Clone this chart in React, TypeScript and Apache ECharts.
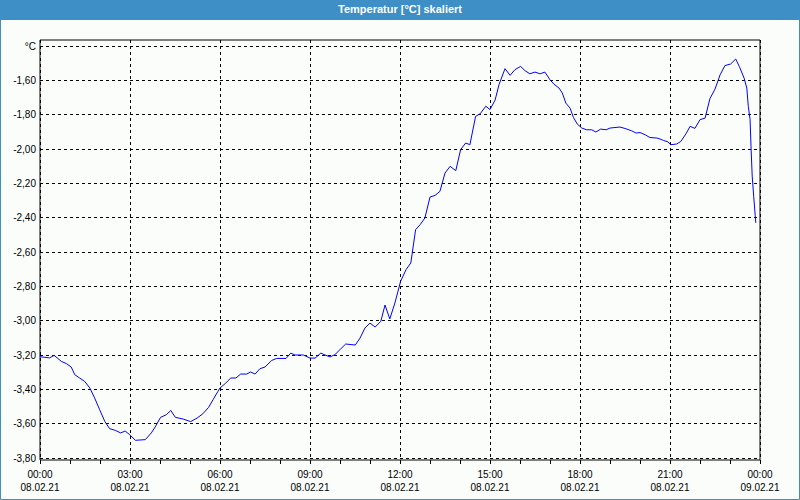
import React, { useEffect, useRef } from "react";
import * as echarts from "echarts";

const hours = [
  0.0, 0.32, 0.47, 0.71, 0.88, 1.04, 1.16, 1.32, 1.49, 1.66, 1.82, 1.99, 2.16, 2.32, 2.51, 2.69, 2.84, 2.99,
  3.18, 3.51, 3.71, 3.84, 4.02, 4.21, 4.36, 4.51, 4.77, 5.02, 5.24, 5.43, 5.62, 5.77, 5.93, 6.0, 6.17, 6.36,
  6.53, 6.69, 6.89, 7.02, 7.17, 7.33, 7.5, 7.72, 7.89, 8.2, 8.36, 8.5, 8.78, 9.0, 9.17, 9.36, 9.5, 9.67, 9.83,
  10.02, 10.19, 10.51, 10.67, 10.83, 11.0, 11.17, 11.36, 11.5, 11.66, 11.83, 12.02, 12.2, 12.36, 12.52, 12.67,
  12.83, 13.0, 13.17, 13.33, 13.5, 13.67, 13.86, 14.02, 14.19, 14.33, 14.52, 14.67, 14.86, 15.0, 15.17, 15.3,
  15.5, 15.67, 15.83, 16.02, 16.17, 16.33, 16.5, 16.67, 16.83, 17.0, 17.13, 17.3, 17.41, 17.53, 17.67, 17.78,
  17.91, 18.06, 18.22, 18.39, 18.53, 18.69, 18.87, 19.0, 19.33, 19.53, 19.72, 19.87, 20.0, 20.17, 20.33, 20.56,
  20.67, 20.78, 20.94, 21.02, 21.22, 21.36, 21.53, 21.67, 21.83, 22.0, 22.17, 22.33, 22.5, 22.67, 22.83, 23.02,
  23.19, 23.31, 23.47, 23.56, 23.61, 23.67, 23.7, 23.74, 23.79, 23.84, 23.86,
];

const temps = [
  -3.21, -3.217, -3.202, -3.237, -3.25, -3.27, -3.315, -3.334, -3.354, -3.392, -3.45, -3.519, -3.587, -3.629,
  -3.639, -3.654, -3.643, -3.664, -3.697, -3.693, -3.654, -3.619, -3.563, -3.548, -3.523, -3.563, -3.573, -3.588,
  -3.567, -3.542, -3.505, -3.46, -3.412, -3.392, -3.367, -3.334, -3.334, -3.311, -3.311, -3.299, -3.311, -3.28,
  -3.27, -3.232, -3.22, -3.22, -3.189, -3.2, -3.2, -3.218, -3.218, -3.189, -3.2, -3.211, -3.198, -3.165, -3.136,
  -3.142, -3.101, -3.043, -3.014, -3.037, -3.004, -2.909, -2.99, -2.897, -2.771, -2.703, -2.664, -2.47, -2.441,
  -2.402, -2.28, -2.27, -2.247, -2.14, -2.101, -2.126, -2.004, -1.965, -1.975, -1.81, -1.795, -1.751, -1.77,
  -1.715, -1.625, -1.532, -1.571, -1.538, -1.519, -1.544, -1.562, -1.552, -1.562, -1.552, -1.597, -1.622, -1.645,
  -1.674, -1.733, -1.762, -1.816, -1.855, -1.878, -1.888, -1.888, -1.901, -1.884, -1.888, -1.878, -1.872, -1.882,
  -1.894, -1.907, -1.904, -1.917, -1.933, -1.936, -1.942, -1.95, -1.959, -1.975, -1.971, -1.956, -1.912, -1.868,
  -1.88, -1.829, -1.82, -1.707, -1.651, -1.568, -1.514, -1.505, -1.476, -1.519, -1.587, -1.645, -1.752, -1.829,
  -1.985, -2.158, -2.275, -2.386, -2.43,
];

const xTickHours = [0, 3, 6, 9, 12, 15, 18, 21, 24];
const dateLabels = ["08.02.21", "08.02.21", "08.02.21", "08.02.21", "08.02.21", "08.02.21", "08.02.21", "08.02.21", "09.02.21"];
const titleText = "Temperatur [°C] skaliert";
const unitLabel = "°C";

const FONT = "Liberation Sans";

export default function App() {
  const ref = useRef<HTMLDivElement>(null);
  useEffect(() => {
    if (!ref.current) return;
    const chart = echarts.init(ref.current, null, { renderer: "svg" });
    const data = hours.map((h, i) => [h, temps[i]]);
    const pad = (n: number) => (n < 10 ? "0" + n : "" + n);
    chart.setOption({
      animation: false,
      backgroundColor: "#fbfdfb",
      title: {
        text: titleText,
        left: "center",
        top: 3,
        padding: 0,
        textStyle: { color: "#ffffff", fontSize: 11, fontWeight: "bold", fontFamily: FONT },
      },
      graphic: [
        { type: "rect", z: -1, shape: { x: 0, y: 0, width: 800, height: 20 }, style: { fill: "#3d8fc6" } },
        { type: "rect", z: 100, shape: { x: 0.5, y: 0.5, width: 799, height: 499 }, style: { fill: "none", stroke: "#3d8fc6", lineWidth: 1 } },
      ],
      grid: [
        { left: 40, right: 40, top: 40, bottom: 40, show: true, borderColor: "#000", borderWidth: 1, backgroundColor: "transparent" },
        { left: 40, right: 40, top: 46, height: 412 },
      ],
      xAxis: [
        {
          gridIndex: 0,
          type: "value",
          min: 0,
          max: 24,
          interval: 3,
          axisLine: { show: false },
          axisTick: { show: true, length: 4, lineStyle: { color: "#000" } },
          minorTick: { show: true, splitNumber: 3, length: 4, lineStyle: { color: "#000" } },
          splitLine: { show: true, lineStyle: { color: "#000", type: [3, 3], width: 1 } },
          axisLabel: {
            margin: 8,
            color: "#000",
            fontSize: 10,
            fontFamily: FONT,
            lineHeight: 13,
            formatter: (v: number) => {
              const idx = xTickHours.indexOf(v);
              const hh = pad(v % 24);
              return hh + ":00\n" + (idx >= 0 ? dateLabels[idx] : "");
            },
          },
        },
        { gridIndex: 1, type: "value", min: 0, max: 24, show: false, splitLine: { show: false } },
      ],
      yAxis: [
        { gridIndex: 0, type: "value", show: false, min: 0, max: 1, splitLine: { show: false } },
        {
          gridIndex: 1,
          type: "value",
          min: -3.8,
          max: -1.4,
          interval: 0.2,
          axisLine: { show: false },
          axisTick: { show: false },
          splitLine: { show: true, lineStyle: { color: "#000", type: [3, 3], width: 1 } },
          axisLabel: {
            margin: 4,
            color: "#000",
            fontSize: 10,
            fontFamily: FONT,
            formatter: (v: number) => (Math.abs(v + 1.4) < 1e-6 ? unitLabel : v.toFixed(2).replace(".", ",")),
          },
        },
      ],
      series: [
        {
          type: "line",
          xAxisIndex: 1,
          yAxisIndex: 1,
          data,
          showSymbol: false,
          symbol: "none",
          lineStyle: { color: "#0000ff", width: 1 },
        },
      ],
    });
    return () => chart.dispose();
  }, []);
  return <div ref={ref} style={{ position: "fixed", left: 0, top: 0, width: 800, height: 500 }} />;
}
